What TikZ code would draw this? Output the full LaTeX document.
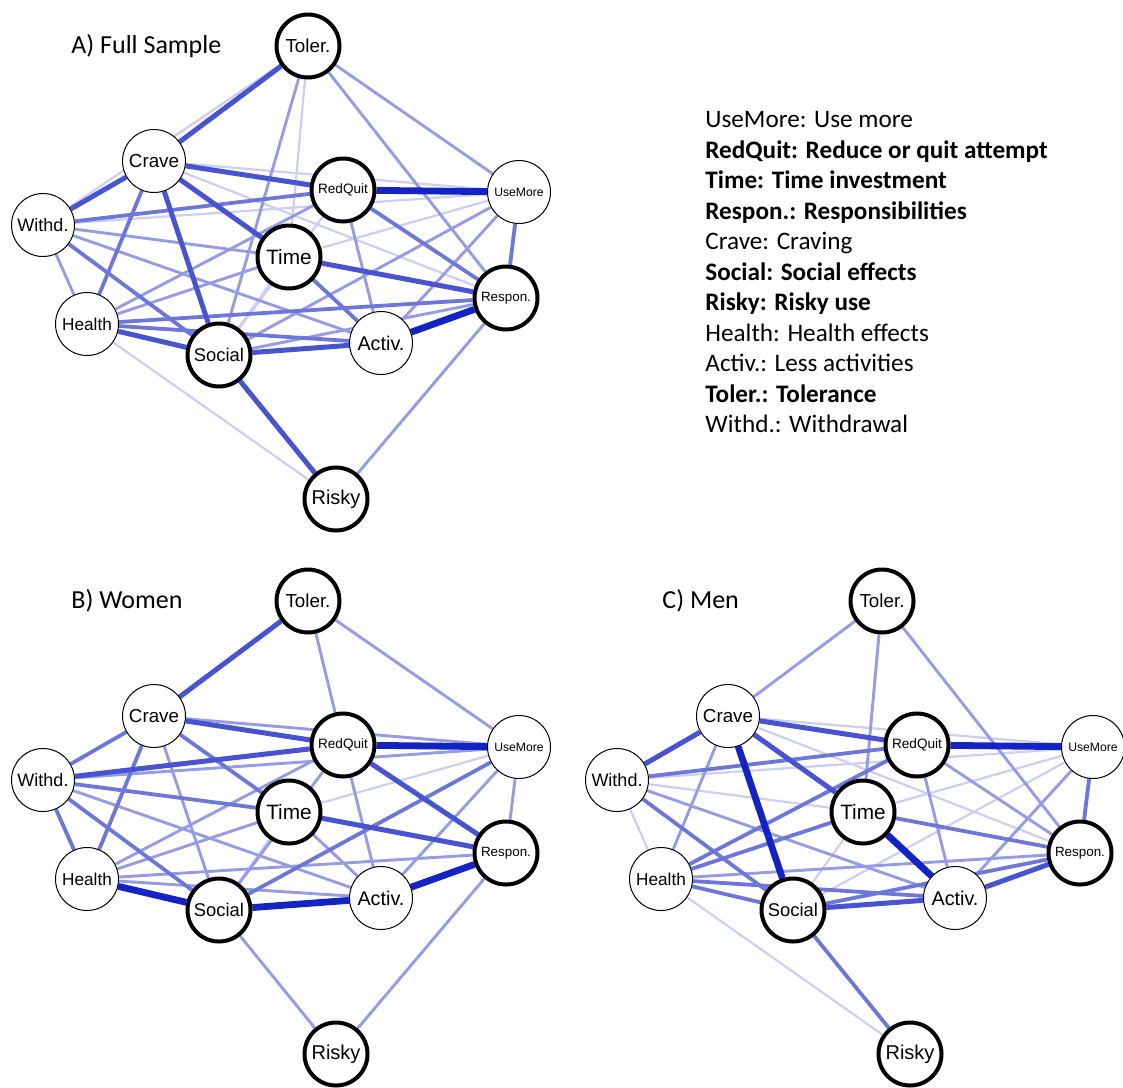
\documentclass[tikz,border=0pt]{standalone}
\usepackage{fontspec}
\usetikzlibrary{backgrounds}
\newfontfamily\labelfont{Liberation Sans}
\newfontfamily\legendfont{Carlito}
\definecolor{edgeblue}{RGB}{20,35,195}
\def\boldnode{\node[circle,draw=black,line width=2pt,fill=white,minimum size=31.5pt,inner sep=0pt]}
\def\thinnode{\node[circle,draw=black,line width=0.5pt,fill=white,minimum size=31.5pt,inner sep=0pt]}
\tikzset{
  fs/.style={font=\labelfont\fontsize{#1}{#1}\selectfont},
  w1/.style={draw=edgeblue!22,line width=1.1pt},
  w2/.style={draw=edgeblue!45,line width=1.45pt},
  w3/.style={draw=edgeblue!62,line width=1.9pt},
  w4/.style={draw=edgeblue!78,line width=2.5pt},
  w5/.style={draw=edgeblue!100,line width=3.4pt},
  paneltitle/.style={anchor=west,inner sep=0pt,font=\legendfont\fontsize{13}{15}\selectfont}
}
% same layout in every panel, names get a prefix
\newcommand\netnodes[1]{%
\boldnode (#1T) [fs=9.4] at (308,46) {Toler.};
\thinnode (#1C) [fs=9.4] at (154,161) {Crave};
\boldnode (#1Q) [fs=6.8] at (343,190) {RedQuit};
\thinnode (#1U) [fs=6.1] at (519,192) {UseMore};
\thinnode (#1W) [fs=9] at (43,225) {Withd.};
\boldnode (#1Ti) [fs=10.4] at (289,257) {Time};
\boldnode (#1R) [fs=6.7] at (506,298) {Respon.};
\thinnode (#1H) [fs=8.6] at (87,324) {Health};
\boldnode (#1S) [fs=9.2] at (219,355) {Social};
\thinnode (#1A) [fs=9.9] at (381,343) {Activ.};
\boldnode (#1K) [fs=10] at (336,499) {Risky};
}

\begin{document}
\begin{tikzpicture}[x=0.5pt,y=-0.5pt]
\useasboundingbox (0,0) rectangle (1123,1087);

% A) full sample
\node (titleA) [paneltitle] at (71,46) {A) Full Sample};
\netnodes{a}
\begin{pgfonlayer}{background}
\foreach \u/\v/\w in {T/W/1,T/Ti/1,C/U/1,C/R/1,W/U/1,H/K/1,S/Q/1,S/Ti/1,Ti/U/1,
  T/S/2,T/U/2,T/R/2,W/Ti/2,W/A/2,W/H/2,H/Q/2,H/Ti/2,S/R/2,S/U/2,Q/A/2,U/A/2,R/K/2,
  C/H/3,W/Q/3,W/S/3,H/R/3,H/A/3,Ti/A/3,Q/R/3,U/R/3,
  T/C/4,C/W/4,C/Q/4,C/Ti/4,C/S/4,H/S/4,S/A/4,S/K/4,Ti/R/4,
  Q/U/5,R/A/5}
  \draw[w\w] (a\u) -- (a\v);
\end{pgfonlayer}

% legend
\node (legend) [anchor=north west,align=left,inner sep=0pt,
  font=\legendfont\fontsize{12.6}{15.25}\selectfont] at (705,111) {%
UseMore: Use more\\
\textbf{RedQuit: Reduce or quit attempt}\\
\textbf{Time: Time investment}\\
\textbf{Respon.: Responsibilities}\\
Crave: Craving\\
\textbf{Social: Social effects}\\
\textbf{Risky: Risky use}\\
Health: Health effects\\
Activ.: Less activities\\
\textbf{Toler.: Tolerance}\\
Withd.: Withdrawal};

% B) women
\begin{scope}[shift={(0,555)}]
\node (titleB) [paneltitle] at (71,46) {B) Women};
\netnodes{b}
\begin{pgfonlayer}{background}
\foreach \u/\v/\w in {S/Ti/1,Ti/U/1,
  T/Q/2,T/U/2,C/U/2,C/S/2,W/U/2,W/A/2,H/Q/2,H/Ti/2,H/R/2,H/A/2,S/Q/2,S/K/2,
  Ti/A/2,Q/A/2,U/R/2,U/A/2,R/K/2,
  C/W/3,C/Ti/3,C/H/3,W/Ti/3,W/S/3,W/H/3,S/U/3,
  T/C/4,C/Q/4,W/Q/4,Ti/R/4,Q/R/4,
  H/S/5,S/A/5,Q/U/5,R/A/5}
  \draw[w\w] (b\u) -- (b\v);
\end{pgfonlayer}
\end{scope}

% C) men
\begin{scope}[shift={(574,555)}]
\node (titleC) [paneltitle] at (88,46) {C) Men};
\netnodes{c}
\begin{pgfonlayer}{background}
\foreach \u/\v/\w in {C/U/1,C/R/1,W/U/1,W/Ti/1,W/H/1,H/K/1,S/U/1,S/Ti/1,Ti/U/1,
  T/C/2,T/Ti/2,T/R/2,C/H/2,W/A/2,H/R/2,Q/R/2,Q/A/2,U/A/2,
  W/Q/3,W/S/3,H/Q/3,H/Ti/3,H/A/3,H/S/3,S/R/3,S/K/3,Ti/R/3,U/R/3,
  C/W/4,C/Q/4,C/Ti/4,S/A/4,R/A/4,
  C/S/5,Ti/A/5,Q/U/5}
  \draw[w\w] (c\u) -- (c\v);
\end{pgfonlayer}
\end{scope}
\end{tikzpicture}
\end{document}
